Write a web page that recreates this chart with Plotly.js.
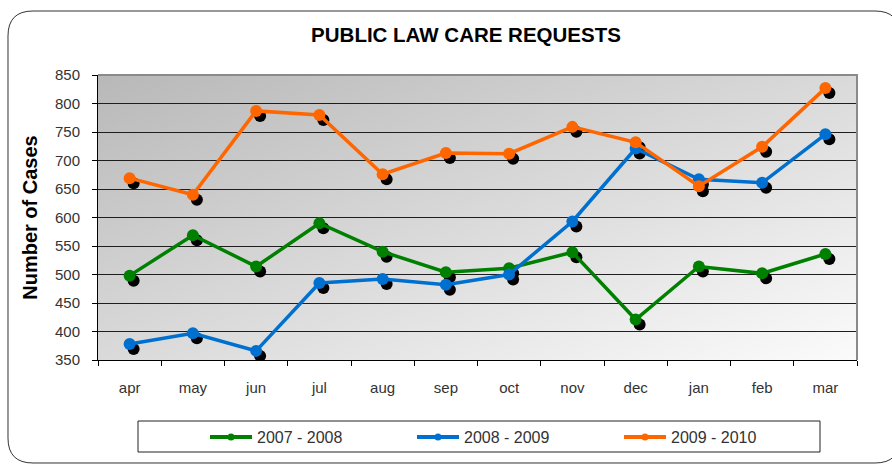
<!DOCTYPE html>
<html><head><meta charset="utf-8">
<script src="https://cdn.plot.ly/plotly-3.0.1.min.js"></script>
<style>html,body{margin:0;padding:0;background:#fff}#chart{width:892px;height:466px}</style>
</head><body><div id="chart"></div>
<script>
// ---- data ----
const months = ['apr','may','jun','jul','aug','sep','oct','nov','dec','jan','feb','mar'];
const series0708 = [498, 569, 514, 590, 540, 504, 511, 539, 421, 514, 502, 536];
const series0809 = [378, 397, 366, 485, 492, 482, 500, 593, 721, 667, 661, 746];
const series0910 = [669, 640, 787, 780, 676, 713, 712, 759, 732, 655, 724, 827];
const seriesNames = ['2007 - 2008', '2008 - 2009', '2009 - 2010'];
const seriesColors = ['#008000', '#0070d0', '#ff6600'];
const yTicks = [350, 400, 450, 500, 550, 600, 650, 700, 750, 800, 850];
const chartTitle = 'PUBLIC LAW CARE REQUESTS';
const yTitle = 'Number of Cases';

// ---- layout geometry ----
const W = 892, H = 466, M = {l: 98, r: 35, t: 75, b: 106, autoexpand: false};
const pw = W - M.l - M.r, ph = H - M.t - M.b;
const px2x = p => (p - M.l) / pw;
const py2y = p => (H - M.b - p) / ph;
const yLo = 350, yHi = 850;
const shadowDX = 4, shadowDY = 5;
const dxCat = shadowDX / (pw / months.length);
const dyVal = shadowDY * (yHi - yLo) / ph;
const FONT = 'Liberation Sans, Arial, sans-serif';

const allSeries = [series0708, series0809, series0910];
const traces = [];
allSeries.forEach(s => traces.push({
  type: 'scatter', mode: 'markers', x: months, y: s, xaxis: 'x', yaxis: 'y',
  marker: {color: '#000', size: 12}, showlegend: false, hoverinfo: 'skip'
}));
allSeries.forEach((s, i) => traces.push({
  type: 'scatter', mode: 'lines+markers', x: months, y: s, xaxis: 'x2', yaxis: 'y2',
  name: seriesNames[i], line: {color: seriesColors[i], width: 3.5},
  marker: {color: seriesColors[i], size: 12}, showlegend: false
}));
seriesNames.forEach((n, i) => traces.push({
  type: 'scatter', mode: 'lines+markers', x: [null], y: [null], xaxis: 'x2', yaxis: 'y2',
  name: n, line: {color: seriesColors[i], width: 4}, marker: {color: seriesColors[i], size: 7}
}));

const grad = "<svg xmlns='http://www.w3.org/2000/svg' width='100' height='100' preserveAspectRatio='none'>" +
  "<defs><linearGradient id='g' x1='0' y1='0' x2='1' y2='1'>" +
  "<stop offset='0' stop-color='#b8b8b8'/><stop offset='1' stop-color='#fbfbfb'/></linearGradient></defs>" +
  "<rect width='100' height='100' fill='url(#g)'/></svg>";
const gradSrc = 'data:image/svg+xml;charset=utf-8,' + encodeURIComponent(grad);

// rounded outer frame
const fL = 8, fT = 11, fR = 900, fB = 463, rr = 25;
const P = (x, y) => px2x(x).toFixed(5) + ',' + py2y(y).toFixed(5);
const framePath = 'M' + P(fL + rr, fT) + ' L' + P(fR - rr, fT) + ' Q' + P(fR, fT) + ' ' + P(fR, fT + rr) +
  ' L' + P(fR, fB - rr) + ' Q' + P(fR, fB) + ' ' + P(fR - rr, fB) +
  ' L' + P(fL + rr, fB) + ' Q' + P(fL, fB) + ' ' + P(fL, fB - rr) +
  ' L' + P(fL, fT + rr) + ' Q' + P(fL, fT) + ' ' + P(fL + rr, fT) + ' Z';

const layout = {
  width: W, height: H, margin: M,
  paper_bgcolor: '#ffffff', plot_bgcolor: 'rgba(0,0,0,0)',
  font: {family: FONT, color: '#222'},
  title: {text: chartTitle, font: {family: FONT, size: 20.5, weight: 'bold', color: '#000'},
          xref: 'container', x: 466 / W, yref: 'container', y: 1 - 35 / H, yanchor: 'middle', xanchor: 'center'},
  xaxis: {type: 'category', categoryarray: months, range: [-0.5 - dxCat, months.length - 0.5 - dxCat],
          visible: false, fixedrange: true},
  yaxis: {range: [yLo + dyVal, yHi + dyVal], visible: false, fixedrange: true},
  xaxis2: {type: 'category', categoryarray: months, overlaying: 'x', anchor: 'y2', side: 'bottom',
           range: [-0.5, months.length - 0.5], tickson: 'boundaries', ticks: 'outside', ticklen: 5,
           tickcolor: '#000', showline: true, linecolor: '#000', linewidth: 1, showgrid: false,
           tickfont: {size: 15, color: '#333'}, ticklabelstandoff: 14, automargin: false},
  yaxis2: {overlaying: 'y', anchor: 'x2', side: 'left', range: [yLo, yHi], tickvals: yTicks,
           ticks: 'outside', ticklen: 5, tickcolor: '#000', showline: true, linecolor: '#000', linewidth: 1,
           showgrid: true, gridcolor: '#1e1e1e', gridwidth: 1, zeroline: false,
           tickfont: {size: 15, color: '#333'}, ticklabelstandoff: 9, automargin: false,
           title: {text: yTitle, font: {size: 20, weight: 'bold', color: '#000'}, standoff: 11}},
  legend: {orientation: 'h', x: px2x(205), xanchor: 'left', y: py2y(437), yanchor: 'middle',
           bgcolor: 'rgba(0,0,0,0)', borderwidth: 0, font: {size: 16, color: '#333'},
           itemwidth: 42, entrywidth: 150, entrywidthmode: 'pixels'},
  images: [{source: gradSrc, xref: 'paper', yref: 'paper', x: 0, y: 1, sizex: 1, sizey: 1,
            xanchor: 'left', yanchor: 'top', sizing: 'stretch', layer: 'below'}],
  shapes: [
    {type: 'path', xref: 'paper', yref: 'paper', path: framePath, line: {color: '#333', width: 1}, layer: 'below'},
    {type: 'path', xref: 'paper', yref: 'paper', path: 'M0,1 L1,1 L1,0', line: {color: '#8a8a8a', width: 2}, layer: 'above'},
    {type: 'rect', xref: 'paper', yref: 'paper', x0: px2x(138), x1: px2x(820), y0: py2y(452), y1: py2y(421),
     line: {color: '#222', width: 1}, layer: 'below'}
  ],
  hovermode: false
};

Plotly.newPlot('chart', traces, layout, {staticPlot: true, displayModeBar: false});
</script></body></html>
